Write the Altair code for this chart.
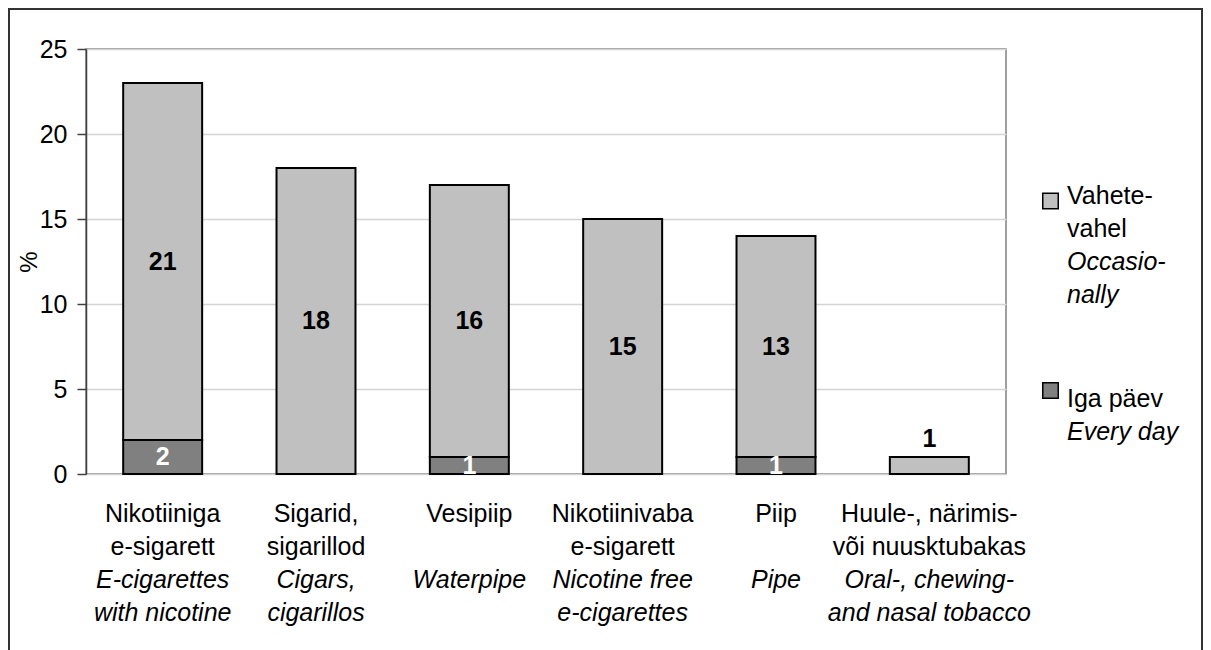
import altair as alt
import pandas as pd

# ---- data ----
cats_et = ["Nikotiiniga\ne-sigarett", "Sigarid,\nsigarillod", "Vesipiip",
           "Nikotiinivaba\ne-sigarett", "Piip", "Huule-, närimis-\nvõi nuusktubakas"]
cats_en = ["E-cigarettes\nwith nicotine", "Cigars,\ncigarillos", "Waterpipe",
           "Nicotine free\ne-cigarettes", "Pipe", "Oral-, chewing-\nand nasal tobacco"]
occasionally = [21, 18, 16, 15, 13, 1]
every_day = [2, 0, 1, 0, 1, 0]
series = ["Vahetevahel", "Iga päev"]
legend_et = ["Vahete-\nvahel", "Iga päev"]
legend_en = ["Occasio-\nnally", "Every day"]
y_ticks = [0, 5, 10, 15, 20, 25]

rows = []
for c, o, d in zip(cats_et, occasionally, every_day):
    rows.append({"cat": c, "series": series[1], "value": d, "ord": 0})
    rows.append({"cat": c, "series": series[0], "value": o, "ord": 1})
df = pd.DataFrame(rows)
cat_df = pd.DataFrame({"cat": cats_et, "et": cats_et, "en": cats_en})

W, H = 920, 425
FONT = "Liberation Sans"
LINE = 33
FS = 25
y_scale = alt.Scale(domain=[0, 25], nice=False, zero=True)

x_enc = alt.X("cat:N", sort=cats_et,
              scale=alt.Scale(paddingInner=0.485, paddingOuter=0.2425),
              axis=alt.Axis(title=None, labels=False, tickBand="extent", tickSize=8,
                            domainColor="#404040", tickColor="#404040",
                            domainWidth=1.5, tickWidth=1.5, grid=False))
x_plain = alt.X("cat:N", sort=cats_et, axis=None)

bars = alt.Chart(df).transform_filter("datum.value > 0").mark_bar(
    stroke="black", strokeWidth=2
).encode(
    x=x_enc,
    y=alt.Y("value:Q", stack="zero", scale=y_scale,
            axis=alt.Axis(title="%", values=y_ticks, labelFontSize=25, labelFont=FONT,
                          labelColor="black", tickSize=9, labelPadding=10,
                          domainColor="#404040", tickColor="#404040",
                          domainWidth=1.5, tickWidth=1.5,
                          gridColor="#d4d4d4", gridWidth=1.5,
                          titleFontSize=24, titleFont=FONT, titleFontWeight="normal",
                          titleColor="black", titlePadding=-2)),
    color=alt.Color("series:N", scale=alt.Scale(domain=series, range=["#c0c0c0", "#808080"]),
                    legend=None),
    order=alt.Order("ord:Q"),
)

stacked = alt.Chart(df).transform_stack(
    stack="value", groupby=["cat"], as_=["v0", "v1"],
    sort=[alt.SortField("ord", order="ascending")]
).transform_calculate(mid="(datum.v0 + datum.v1) / 2")

inside = stacked.transform_filter(
    f"datum.value > 0 && !(datum.series == '{series[0]}' && datum.value < 2)"
).mark_text(fontSize=25, fontWeight="bold", font=FONT, baseline="middle", dy=0).encode(
    x=x_plain,
    y=alt.Y("mid:Q", scale=y_scale),
    text=alt.Text("value:Q"),
    color=alt.condition(f"datum.series == '{series[1]}'", alt.value("white"), alt.value("black")),
)

above = stacked.transform_filter(
    f"datum.series == '{series[0]}' && datum.value > 0 && datum.value < 2"
).mark_text(fontSize=25, fontWeight="bold", font=FONT, baseline="bottom", dy=-5,
            color="black").encode(
    x=x_plain,
    y=alt.Y("v1:Q", scale=y_scale),
    text=alt.Text("value:Q"),
)

lab_et = alt.Chart(cat_df).mark_text(fontSize=FS, font=FONT, lineBreak="\n",
                                     baseline="alphabetic", lineHeight=LINE,
                                     color="black").encode(
    x=x_plain, y=alt.value(H + 48), text="et:N")
lab_en = alt.Chart(cat_df).mark_text(fontSize=FS, font=FONT, lineBreak="\n",
                                     baseline="alphabetic", lineHeight=LINE,
                                     fontStyle="italic", color="black").encode(
    x=x_plain, y=alt.value(H + 48 + 2 * LINE), text="en:N")

# ---- legend (manual, to allow mixed italic lines) ----
one = alt.Data(values=[{}])
LX = 964.5
leg = []
sq_y = [152, 341.5]
txt_y = [155, 357.7]
for i in range(2):
    leg.append(alt.Chart(one).mark_square(size=240, stroke="black", strokeWidth=1.5,
                                          fill=["#c0c0c0", "#808080"][i], opacity=1).encode(
        x=alt.value(LX), y=alt.value(sq_y[i])))
    nl = legend_et[i].count("\n") + 1
    leg.append(alt.Chart(one).mark_text(text=legend_et[i], fontSize=FS, font=FONT,
                                        lineBreak="\n", lineHeight=LINE, align="left",
                                        baseline="alphabetic", color="black").encode(
        x=alt.value(LX + 16.5), y=alt.value(txt_y[i])))
    leg.append(alt.Chart(one).mark_text(text=legend_en[i], fontSize=FS, font=FONT,
                                        lineBreak="\n", lineHeight=LINE, align="left",
                                        baseline="alphabetic", fontStyle="italic",
                                        color="black").encode(
        x=alt.value(LX + 16.5), y=alt.value(txt_y[i] + nl * LINE)))

frame = alt.Chart(one).mark_rect(fillOpacity=0, stroke="#333333", strokeWidth=2).encode(
    x=alt.value(-77), x2=alt.value(1116), y=alt.value(-40), y2=alt.value(640))

chart = alt.layer(frame, bars, inside, above, lab_et, lab_en, *leg).properties(
    width=W, height=H, padding=0
).configure_view(stroke="#808080", strokeWidth=1.5).configure_axis(
    labelFont=FONT, titleFont=FONT
)

chart.save("out.html", embed_options={"renderer": "svg", "actions": False})
